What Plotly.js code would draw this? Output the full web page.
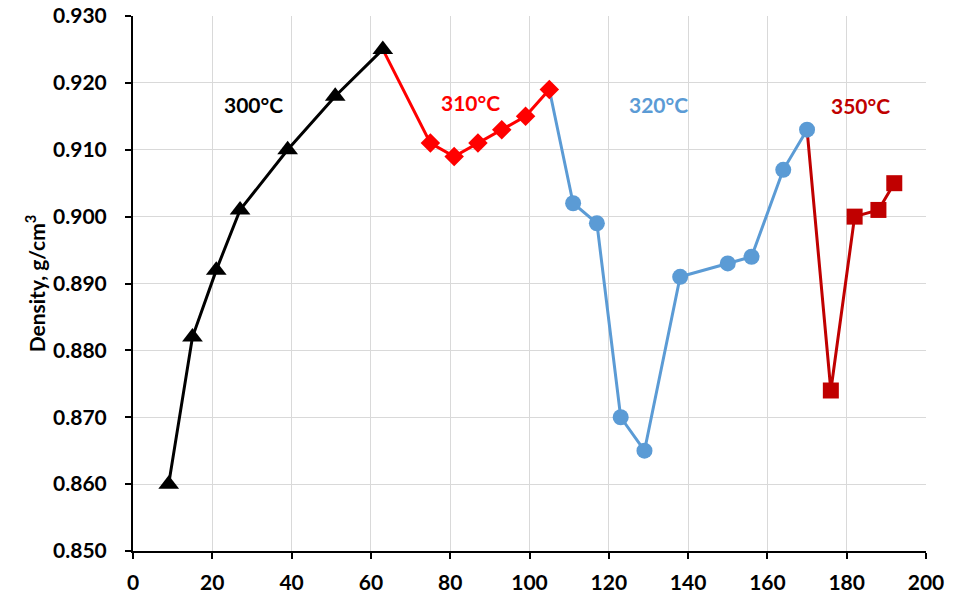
<!DOCTYPE html>
<html>
<head>
<meta charset="utf-8">
<script src="https://cdn.plot.ly/plotly-3.0.1.min.js"></script>
<style>html,body{margin:0;padding:0;background:#fff;}#chart{width:953px;height:599px;}</style>
</head>
<body>
<div id="chart"></div>
<script>
const x300 = [9, 15, 21, 27, 39, 51, 63];
const y300 = [0.860, 0.882, 0.892, 0.901, 0.910, 0.918, 0.925];
const x310 = [75, 81, 87, 93, 99, 105];
const y310 = [0.911, 0.909, 0.911, 0.913, 0.915, 0.919];
const x320 = [111, 117, 123, 129, 138, 150, 156, 164, 170];
const y320 = [0.902, 0.899, 0.870, 0.865, 0.891, 0.893, 0.894, 0.907, 0.913];
const x350 = [176, 182, 188, 192];
const y350 = [0.874, 0.900, 0.901, 0.905];
const labels = ["300°C", "310°C", "320°C", "350°C"];
const labelX = [30.5, 85, 132.5, 183.5];
const labelY = [0.9168, 0.9170, 0.9168, 0.9166];

const series = [
  {x: x300, y: y300, color: "#000000", symbol: "triangle-up", size: 18},
  {x: x310, y: y310, color: "#FF0000", symbol: "diamond", size: 15},
  {x: x320, y: y320, color: "#5B9BD5", symbol: "circle", size: 16},
  {x: x350, y: y350, color: "#C00000", symbol: "square", size: 16}
];

const FONT = "Lato, 'Open Sans', sans-serif";
const traces = [];
series.forEach((s, i) => {
  let lx = s.x.slice(), ly = s.y.slice();
  if (i > 0) {
    const p = series[i - 1];
    lx.unshift(p.x[p.x.length - 1]);
    ly.unshift(p.y[p.y.length - 1]);
  }
  traces.push({x: lx, y: ly, mode: "lines", line: {color: s.color, width: 3}, hoverinfo: "skip", showlegend: false});
});
series.forEach((s) => {
  traces.push({x: s.x, y: s.y, mode: "markers", marker: {color: s.color, symbol: s.symbol, size: s.size, line: {width: 0}}, showlegend: false});
});

const annotations = labels.map((t, i) => ({
  x: labelX[i], y: labelY[i], xref: "x", yref: "y", text: t,
  showarrow: false, font: {size: 21, color: series[i].color, family: FONT, weight: "bold"}
}));

const layout = {
  width: 953, height: 599,
  margin: {l: 133, r: 27, t: 16, b: 48},
  paper_bgcolor: "#fff", plot_bgcolor: "#fff",
  font: {family: FONT, color: "#000"},
  showlegend: false,
  xaxis: {
    range: [0, 200], dtick: 20, tick0: 0,
    showgrid: true, gridcolor: "#D9D9D9", gridwidth: 1,
    zeroline: false, showline: true, linecolor: "#000", linewidth: 2,
    ticks: "outside", ticklen: 6, tickwidth: 2, tickcolor: "#000",
    ticklabelstandoff: 6,
    tickfont: {size: 21, family: FONT, weight: "bold"}
  },
  yaxis: {
    range: [0.850, 0.930], dtick: 0.01, tick0: 0.85, tickformat: ".3f",
    showgrid: true, gridcolor: "#D9D9D9", gridwidth: 1,
    zeroline: false, showline: true, linecolor: "#000", linewidth: 2,
    ticks: "outside", ticklen: 6, tickwidth: 2, tickcolor: "#000",
    ticklabelstandoff: 14,
    tickfont: {size: 21, family: FONT, weight: "bold"},
    title: {text: "Density, g/cm<sup>3</sup>", font: {size: 21, family: FONT, weight: "bold"}, standoff: 2}
  },
  annotations: annotations
};

Plotly.newPlot("chart", traces, layout, {displayModeBar: false, staticPlot: true});
</script>
</body>
</html>
